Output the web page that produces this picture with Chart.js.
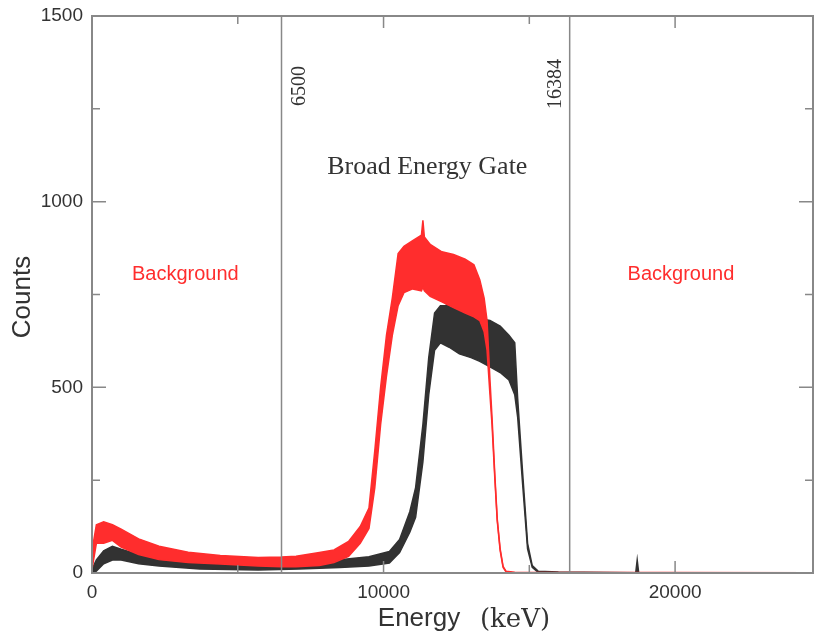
<!DOCTYPE html>
<html>

<head>
  <title>Broad Energy Gate</title>
  <script src="https://cdn.jsdelivr.net/npm/chart.js"></script>
  <style>
    body { margin: 0; background: #fff; }
  </style>
</head>

<body>
  <canvas id="myChart" width="814" height="639"></canvas>
  <script>
    // Red spectrum, read as a lower / upper envelope of the noisy band
    var redEnergy = [0, 150, 400, 700, 1000, 1600, 2300, 3300, 4400, 5700, 6500, 7000, 7800, 8300, 8800,
      9200, 9500, 9700, 9900, 10100, 10300, 10500, 10700, 11000, 11300, 11350, 11400, 11600, 12000, 12400,
      12800, 13100, 13300, 13450, 13550, 13650, 13720, 13820, 13900, 14000, 14100, 14200, 14500, 24700];
    var redLow = [10, 80, 80, 88, 70, 50, 36, 28, 24, 19, 17, 17, 20, 28, 45,
      80, 120, 230, 400, 530, 640, 720, 755, 765, 760, 770, 760, 745, 730, 715,
      700, 690, 680, 650, 600, 480, 400, 250, 140, 60, 15, 3, 0, 0];
    var redHigh = [60, 130, 138, 130, 118, 92, 72, 56, 47, 42, 43, 45, 55, 62, 85,
      125, 175, 330, 500, 640, 740, 860, 880, 895, 910, 950, 905, 885, 865, 858,
      845, 830, 790, 740, 680, 520, 420, 260, 145, 65, 18, 5, 2, 1];

    // Black spectrum
    var blackEnergy = [0, 150, 400, 700, 1000, 1600, 2300, 3700, 5700, 7100, 8500, 9500, 10200, 10550, 10900,
      11100, 11350, 11550, 11750, 11950, 12150, 12200, 12250, 12600, 13000, 13300, 13650, 14000, 14300, 14500,
      14600, 14770, 14940, 15100, 15300, 16000, 18650, 18700, 18750, 24700];
    var blackLow = [0, 5, 25, 35, 35, 25, 19, 11, 8, 11, 15, 19, 27, 55, 110,
      150, 300, 480, 600, 620, 612, 610, 608, 590, 580, 570, 555, 540, 520, 480,
      420, 240, 65, 15, 2, 0, 0, 0, 0, 0];
    var blackHigh = [10, 35, 60, 72, 64, 50, 42, 33, 27, 30, 36, 44, 58, 90, 165,
      230, 400, 580, 700, 720, 720, 740, 718, 705, 695, 685, 680, 665, 640, 620,
      470, 270, 80, 20, 5, 3, 1, 35, 1, 1];

    var gateEnergies = [6500, 16384];
    var gateLabels = ['6500', '16384'];

    var xTicks = [0, 5000, 10000, 15000, 20000];
    var yTicks = [0, 250, 500, 750, 1000, 1250, 1500];

    var RED = 'rgb(255,45,45)';
    var BLACK = 'rgb(50,50,50)';
    var FRAME = '#888';
    var TEXT = '#333';

    function points(xs, ys) {
      return xs.map(function (x, i) { return { x: x, y: ys[i] }; });
    }

    function band(xs, lo, hi, color) {
      return [
        { data: points(xs, lo), borderColor: color, borderWidth: 1.5, pointRadius: 0, fill: false, tension: 0 },
        { data: points(xs, hi), borderColor: color, borderWidth: 1.5, pointRadius: 0, fill: '-1', backgroundColor: color, tension: 0 }
      ];
    }

    // frame, inward ticks, gate lines and the annotations
    var decorations = {
      id: 'decorations',
      afterDatasetsDraw: function (chart) {
        var ctx = chart.ctx;
        var a = chart.chartArea;
        var xs = chart.scales.x;
        var ys = chart.scales.y;
        ctx.save();

        ctx.strokeStyle = FRAME;
        ctx.lineWidth = 1.5;
        gateEnergies.forEach(function (e) {
          var px = xs.getPixelForValue(e);
          ctx.beginPath();
          ctx.moveTo(px, a.top);
          ctx.lineTo(px, a.bottom);
          ctx.stroke();
        });

        ctx.lineWidth = 2;
        ctx.strokeRect(a.left, a.top, a.right - a.left, a.bottom - a.top);

        ctx.lineWidth = 1.5;
        xs.ticks.forEach(function (t) {
          if (t.value === 0) return;
          var len = t.value % 10000 === 0 ? 12 : 8;
          var px = xs.getPixelForValue(t.value);
          ctx.beginPath();
          ctx.moveTo(px, a.bottom); ctx.lineTo(px, a.bottom - len);
          ctx.moveTo(px, a.top); ctx.lineTo(px, a.top + len);
          ctx.stroke();
        });
        ys.ticks.forEach(function (t) {
          if (t.value === 0 || t.value === 1500) return;
          var len = t.value % 500 === 0 ? 14 : 8;
          var py = ys.getPixelForValue(t.value);
          ctx.beginPath();
          ctx.moveTo(a.left, py); ctx.lineTo(a.left + len, py);
          ctx.moveTo(a.right, py); ctx.lineTo(a.right - len, py);
          ctx.stroke();
        });

        ctx.fillStyle = TEXT;
        ctx.textAlign = 'center';
        ctx.textBaseline = 'middle';

        // gate labels, rotated
        ctx.font = '20px "Liberation Serif"';
        var offsets = [18, -14];
        var lift = [70, 68];
        gateEnergies.forEach(function (e, i) {
          ctx.save();
          ctx.translate(xs.getPixelForValue(e) + offsets[i], a.top + lift[i]);
          ctx.rotate(-Math.PI / 2);
          ctx.fillText(gateLabels[i], 0, 0);
          ctx.restore();
        });

        ctx.font = '26px "Liberation Serif"';
        ctx.fillText('Broad Energy Gate', xs.getPixelForValue(11500), ys.getPixelForValue(1092));

        ctx.fillStyle = RED;
        ctx.font = '20px "Liberation Sans"';
        ctx.fillText('Background', xs.getPixelForValue(3200), ys.getPixelForValue(803));
        ctx.fillText('Background', xs.getPixelForValue(20200), ys.getPixelForValue(803));

        // axis titles
        ctx.fillStyle = TEXT;
        ctx.font = '26px "Liberation Sans"';
        ctx.fillText('Energy', 419, 619);
        ctx.font = '26px "DejaVu Serif"';
        ctx.fillText('(keV)', 515, 620);
        ctx.font = '26px "Liberation Sans"';
        ctx.save();
        ctx.translate(23, 297);
        ctx.rotate(-Math.PI / 2);
        ctx.fillText('Counts', 0, 0);
        ctx.restore();

        ctx.restore();
      }
    };

    var tickFont = { family: 'Liberation Sans', size: 19 };

    var ctx = document.getElementById('myChart').getContext('2d');
    var chart = new Chart(ctx, {
      type: 'line',
      data: {
        datasets: band(redEnergy, redLow, redHigh, RED).concat(band(blackEnergy, blackLow, blackHigh, BLACK))
      },
      options: {
        responsive: false,
        animation: false,
        layout: { padding: { top: 16, right: 1, left: 0, bottom: 0 } },
        plugins: {
          legend: { display: false },
          tooltip: { enabled: false }
        },
        scales: {
          x: {
            type: 'linear',
            min: 0,
            max: 24730,
            grid: { display: false, drawTicks: false },
            border: { display: false },
            afterBuildTicks: function (s) {
              s.ticks = xTicks.map(function (v) { return { value: v }; });
            },
            ticks: {
              autoSkip: false,
              maxRotation: 0,
              padding: 8,
              color: TEXT,
              font: tickFont,
              callback: function (v) { return v % 10000 === 0 ? String(v) : ''; }
            },
            afterFit: function (s) {
              s.height = 66;
              s.paddingLeft = 0;
              s.paddingRight = 0;
            }
          },
          y: {
            min: 0,
            max: 1500,
            grid: { display: false, drawTicks: false },
            border: { display: false },
            afterBuildTicks: function (s) {
              s.ticks = yTicks.map(function (v) { return { value: v }; });
            },
            ticks: {
              autoSkip: false,
              padding: 9,
              color: TEXT,
              font: tickFont,
              callback: function (v) { return v % 500 === 0 ? String(v) : ''; }
            },
            afterFit: function (s) {
              s.width = 92;
              s.paddingTop = 0;
              s.paddingBottom = 0;
            }
          }
        }
      },
      plugins: [decorations]
    });
  </script>
</body>

</html>
